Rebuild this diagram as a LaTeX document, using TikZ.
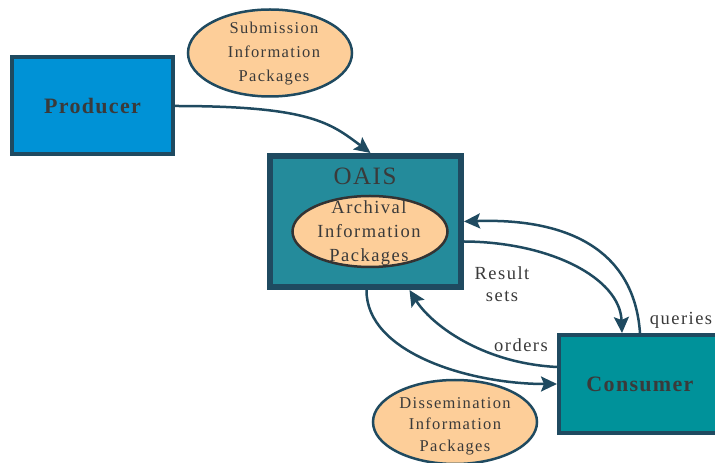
\documentclass[tikz,border=0pt]{standalone}
\usepackage{fontspec}
\setmainfont{Liberation Serif}
\newfontfamily\spaced[LetterSpace=6]{Liberation Serif}
\newfontfamily\wide[LetterSpace=8]{Liberation Serif}
\usetikzlibrary{arrows.meta,shapes.geometric}
\definecolor{edge}{RGB}{31,74,96}
\definecolor{ink}{RGB}{58,58,58}
\definecolor{prodblue}{RGB}{0,146,214}
\definecolor{oaisteal}{RGB}{36,139,155}
\definecolor{consteal}{RGB}{0,146,154}
\definecolor{pkg}{RGB}{253,206,153}
\begin{document}
\begin{tikzpicture}[x=1pt,y=1pt,
    box/.style={draw=edge,line width=4pt,text=ink,inner sep=0pt},
    pack/.style={ellipse,draw=edge,fill=pkg,line width=2.5pt,inner sep=0pt},
    packtext/.style={text=ink,align=center,inner sep=0pt},
    lbl/.style={text=ink,align=center,font=\fontsize{18.5}{22}\selectfont\wide},
    flow/.style={draw=edge,line width=2.5pt,-{Stealth[length=16pt,width=15pt,inset=3pt]}}]
\useasboundingbox (0,0) rectangle (715,463);
\clip (0,0) rectangle (715,463);
\fill[white] (0,0) rectangle (715,463);
%the three boxes
\node[box,fill=prodblue,minimum width=161,minimum height=97,
    font=\fontsize{22}{26}\selectfont\bfseries\spaced] (producer) at (92.5,357) {Producer};
\node[box,fill=oaisteal,line width=6pt,minimum width=191,minimum height=131] (oais) at (365.5,241.5) {};
\node[text=ink,font=\fontsize{25}{28}\selectfont\spaced] (oaistitle) at (365,287) {OAIS};
\node[box,fill=consteal,minimum width=162,minimum height=98,
    font=\fontsize{22}{26}\selectfont\bfseries\spaced] (consumer) at (640,79) {Consumer};
%the information packages
\node[pack,minimum width=164,minimum height=87] (sip) at (270,410) {};
\node[packtext,font=\fontsize{16.5}{24}\selectfont\wide] (siptext) at (274,409) {Submission\\Information\\Packages};
\node[pack,draw=black!80,minimum width=155,minimum height=71] (aip) at (370,231.5) {};
\node[packtext,font=\fontsize{18.5}{24}\selectfont\wide] (aiptext) at (369,230) {Archival\\Information\\Packages};
\node[pack,minimum width=164,minimum height=84] (dip) at (455,41) {};
\node[packtext,font=\fontsize{16.5}{21.5}\selectfont\wide] (diptext) at (455,37) {Dissemination\\Information\\Packages};
%connectors
\draw[flow] (producer.east) .. controls +(135,0) and +(-40,30) .. ([xshift=5pt]oais.north);
\draw[flow] (consumer.north) .. controls (634,215) and (565,245) .. (oais.east);
\draw[flow] ([yshift=-20pt]oais.east) .. controls (550,221) and (620,185) .. ([xshift=-18pt]consumer.north);
\draw[flow] ([yshift=17pt]consumer.west) .. controls (480,100) and (430,140) .. ([xshift=44pt]oais.south);
\draw[flow] ([xshift=1pt]oais.south) .. controls (366,110) and (470,79) .. (consumer.west);
%labels
\node[lbl] (resultlbl) at (502,179) {Result\\sets};
\node[lbl] (querylbl) at (681,143) {queries};
\node[lbl] (orderlbl) at (521,118) {orders};
\end{tikzpicture}
\end{document}
